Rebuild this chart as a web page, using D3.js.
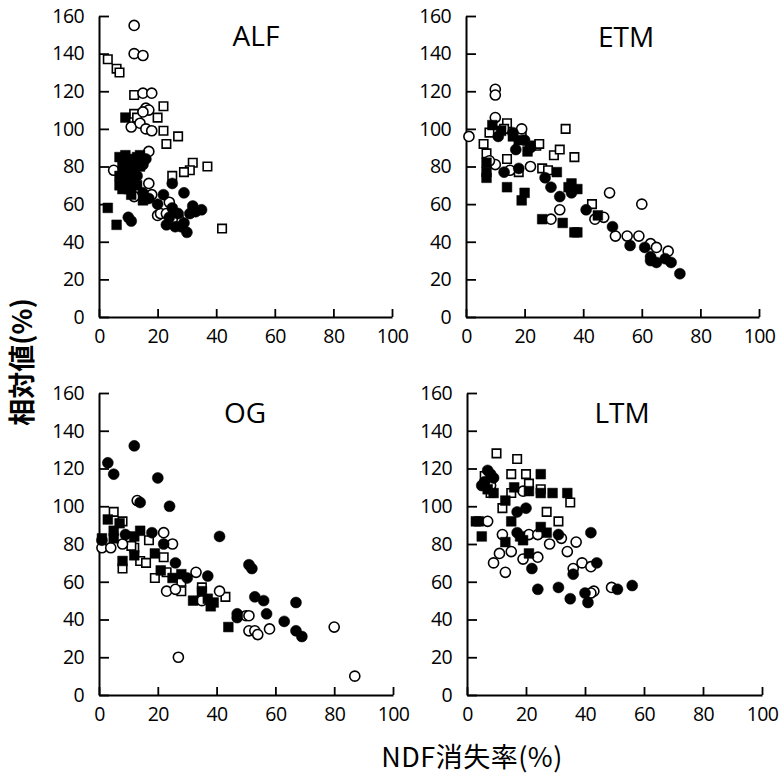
<!DOCTYPE html>
<html><head><meta charset="utf-8">
<script src="https://cdn.jsdelivr.net/npm/d3@7"></script>
<style>
html,body{margin:0;padding:0;background:#fff;}
svg{display:block;}
</style>
</head><body>
<script>
// ---------- data ----------
const panelNames = ["ALF", "ETM", "OG", "LTM"];
const xTicks = [0, 20, 40, 60, 80, 100];
const yTicks = [0, 20, 40, 60, 80, 100, 120, 140, 160];
const seriesKinds = ["filledCircle", "openCircle", "filledSquare", "openSquare"];

// ALF
const alfFilledCircle = [[15,81],[13,75],[15,66],[22,65],[25,71],[29,66],[25,58],[32,59],[33,56],[35,57],[31,55],[10,53],[11,51],[23,49],[26,48],[28,48],[30,45],[16,84],[24,53],[29,50],[20,60],[17,63],[27,55]];
const alfOpenCircle = [[12,155],[12,140],[15,139],[15,119],[18,119],[16,111],[17,110],[11,101],[14,103],[16,100],[18,99],[17,88],[5,78],[17,71],[12,64],[18,65],[24,61],[20,54],[21,55],[23,55],[27,53],[25,52],[15,109]];
const alfFilledSquare = [[9,106],[7,85],[9,86],[11,84],[13,85],[8,80],[10,82],[12,80],[7,75],[9,77],[11,76],[7,70],[9,72],[12,73],[8,68],[10,68],[13,70],[11,65],[15,62],[14,80],[3,58],[6,49],[12,78],[14,86]];
const alfOpenSquare = [[3,137],[6,132],[7,130],[12,118],[22,112],[20,106],[12,108],[13,106],[22,99],[27,96],[23,92],[32,82],[37,80],[31,78],[29,77],[25,75],[42,47]];

// ETM
const etmFilledCircle = [[11,96],[16,98],[17,89],[13,77],[18,79],[27,74],[29,69],[32,64],[36,66],[41,57],[50,48],[56,38],[61,37],[63,32],[63,30],[65,29],[68,31],[70,29],[73,23],[20,94],[22,90]];
const etmOpenCircle = [[10,121],[10,118],[10,106],[1,96],[10,81],[15,78],[22,80],[32,57],[29,52],[49,66],[60,60],[44,52],[47,53],[51,43],[55,43],[59,43],[63,39],[65,37],[69,35],[19,100],[8,83]];
const etmFilledSquare = [[9,102],[7,82],[7,77],[7,74],[14,69],[20,66],[19,62],[26,52],[31,77],[36,71],[38,68],[18,94],[21,88],[22,91],[33,50],[37,45],[38,45],[45,54],[35,69],[12,99],[16,96]];
const etmOpenSquare = [[8,98],[6,92],[7,87],[14,84],[14,103],[19,98],[24,91],[26,79],[28,78],[34,100],[30,86],[32,89],[37,85],[43,60],[18,77],[13,100],[25,92]];

// OG
const ogFilledCircle = [[12,132],[3,123],[5,117],[20,115],[24,100],[14,102],[18,86],[41,84],[22,80],[26,70],[51,69],[52,67],[37,63],[1,82],[47,43],[47,41],[53,52],[56,50],[57,43],[67,49],[63,39],[67,34],[69,31],[9,85],[30,62]];
const ogOpenCircle = [[13,103],[1,78],[4,78],[22,86],[25,80],[33,65],[27,20],[23,55],[26,56],[35,50],[41,55],[50,42],[51,42],[51,34],[53,34],[54,32],[58,35],[80,36],[87,10],[8,80]];
const ogFilledSquare = [[3,93],[5,87],[7,91],[14,87],[12,84],[5,83],[12,74],[19,75],[8,71],[21,66],[28,64],[32,50],[35,55],[37,51],[38,47],[44,36],[39,49],[1,83],[25,62]];
const ogOpenSquare = [[5,97],[8,92],[12,78],[17,82],[14,71],[16,70],[22,73],[8,67],[19,62],[23,65],[28,60],[28,55],[35,57],[43,52],[11,79]];

// LTM
const ltmFilledCircle = [[7,119],[8,117],[6,113],[5,111],[17,97],[20,99],[17,86],[31,85],[42,86],[44,70],[22,67],[36,64],[24,56],[31,57],[35,51],[40,54],[41,49],[51,56],[56,58],[9,115]];
const ltmOpenCircle = [[7,92],[12,85],[21,85],[24,85],[28,80],[32,83],[37,81],[34,76],[9,70],[11,75],[15,76],[19,72],[24,73],[13,65],[36,67],[39,70],[42,68],[43,55],[42,54],[49,57],[19,108],[8,111]];
const ltmFilledSquare = [[3,92],[4,92],[5,84],[15,92],[13,81],[18,84],[19,82],[25,117],[16,110],[13,103],[21,108],[25,107],[29,107],[34,107],[25,89],[27,86],[21,75],[9,107],[7,109]];
const ltmOpenSquare = [[10,128],[17,125],[15,117],[20,117],[21,112],[25,109],[15,107],[12,99],[27,97],[31,92],[35,102],[8,107],[6,116]];

const xTitle = "NDF消失率(%)";
const yTitle = "相対値(%)";

// ---------- layout ----------
const W = 779, H = 775;
const panels = [
  {name: panelNames[0], x0: 99,  x1: 392, y0: 317, y1: 16,  title: [256, 46],
   data: [alfFilledCircle, alfOpenCircle, alfFilledSquare, alfOpenSquare]},
  {name: panelNames[1], x0: 466, x1: 759, y0: 317, y1: 16,  title: [626, 47],
   data: [etmFilledCircle, etmOpenCircle, etmFilledSquare, etmOpenSquare]},
  {name: panelNames[2], x0: 99,  x1: 393, y0: 695, y1: 393, title: [245, 423],
   data: [ogFilledCircle, ogOpenCircle, ogFilledSquare, ogOpenSquare]},
  {name: panelNames[3], x0: 467, x1: 762, y0: 695, y1: 393, title: [622, 423],
   data: [ltmFilledCircle, ltmOpenCircle, ltmFilledSquare, ltmOpenSquare]}
];

const svg = d3.select("body").append("svg").attr("width", W).attr("height", H)
  .style("font-family", "'Open Sans', 'DejaVu Sans', sans-serif");

const tickFont = 19.5;

panels.forEach(p => {
  const x = d3.scaleLinear().domain([0, 100]).range([p.x0, p.x1]);
  const y = d3.scaleLinear().domain([0, 160]).range([p.y0, p.y1]);
  const g = svg.append("g");

  const xAxis = d3.axisBottom(x).tickValues(xTicks).tickSizeInner(-8).tickSizeOuter(0).tickPadding(12);
  const yAxis = d3.axisLeft(y).tickValues(yTicks).tickSizeInner(-10).tickSizeOuter(0).tickPadding(15);

  const gx = g.append("g").attr("transform", `translate(0,${p.y0})`).call(xAxis);
  const gy = g.append("g").attr("transform", `translate(${p.x0},0)`).call(yAxis);
  [gx, gy].forEach(a => {
    a.select(".domain").attr("stroke", "#000").attr("stroke-width", 2);
    a.selectAll(".tick line").attr("stroke", "#000").attr("stroke-width", 1.8);
    a.selectAll(".tick text").attr("fill", "#000").style("font-size", tickFont + "px")
      .style("letter-spacing", "-0.6px")
      .style("font-family", "'Open Sans', 'DejaVu Sans', sans-serif");
  });

  g.append("text").attr("x", p.title[0]).attr("y", p.title[1]).attr("text-anchor", "middle")
    .style("font-size", "28px").attr("fill", "#000").text(p.name);

  const sym = {
    filledCircle: d3.symbol().type(d3.symbolCircle).size(95),
    openCircle: d3.symbol().type(d3.symbolCircle).size(80),
    filledSquare: d3.symbol().type(d3.symbolSquare).size(95),
    openSquare: d3.symbol().type(d3.symbolSquare).size(72)
  };
  // draw open markers first, then filled ones on top
  const order = [3, 1, 2, 0];
  order.forEach(i => {
    const kind = seriesKinds[i];
    const filled = kind.startsWith("filled");
    g.append("g").selectAll("path").data(p.data[i]).join("path")
      .attr("transform", d => `translate(${x(d[0])},${y(d[1])})`)
      .attr("d", sym[kind]())
      .attr("fill", filled ? "#000" : "#fff")
      .attr("stroke", "#000")
      .attr("stroke-width", filled ? 0.5 : 1.6);
  });
});

svg.append("text").attr("x", 472).attr("y", 767).attr("text-anchor", "middle")
  .style("font-family", "'Noto Sans CJK JP', 'Noto Sans', sans-serif")
  .style("letter-spacing", "0.5px")
  .style("font-size", "27px").attr("fill", "#000").text(xTitle);

svg.append("text").attr("transform", "translate(32,362) rotate(-90)").attr("text-anchor", "middle")
  .style("font-family", "'Noto Sans CJK JP', 'Noto Sans', sans-serif")
  .style("font-size", "27px").style("font-weight", "bold").attr("fill", "#000").text(yTitle);
</script>
</body></html>
